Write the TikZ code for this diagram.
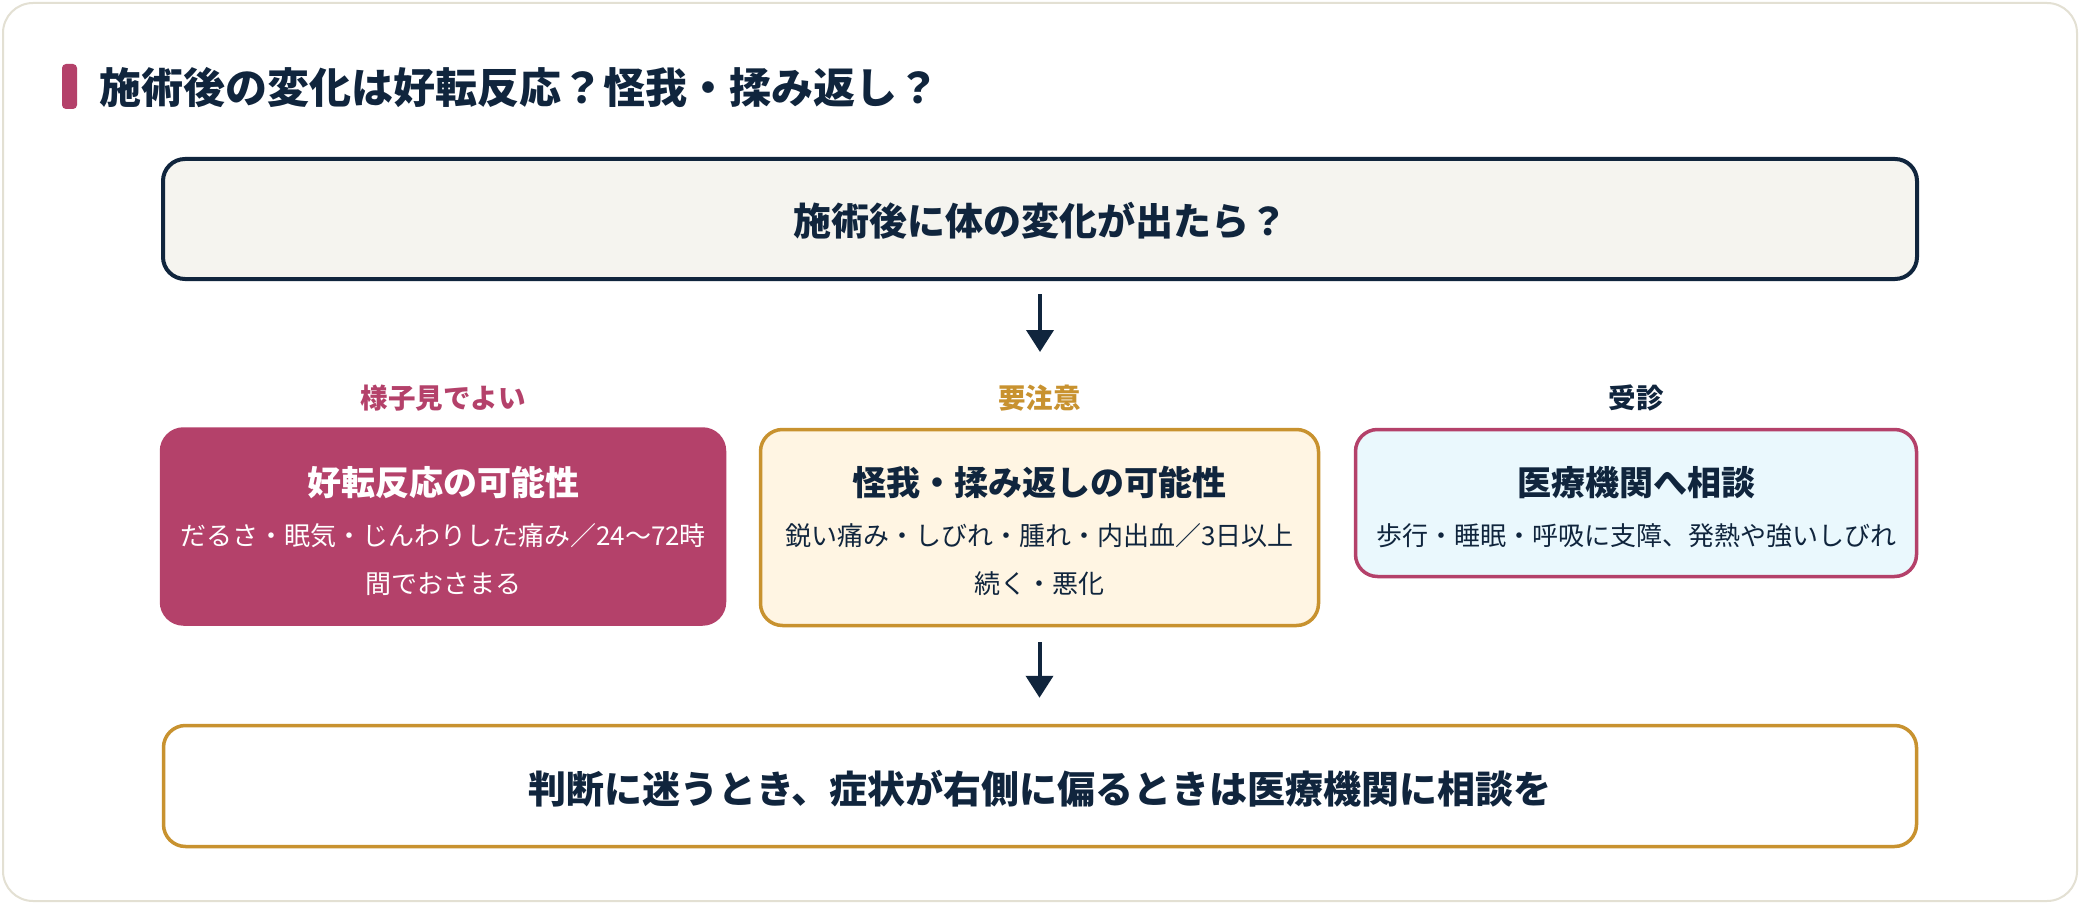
\documentclass[tikz,border=0pt]{standalone}
\usepackage{fontspec}
\setmainfont{Noto Sans CJK JP}
\usetikzlibrary{arrows.meta}
\definecolor{navy}{HTML}{10253D}
\definecolor{rose}{HTML}{B4416A}
\definecolor{gold}{HTML}{C8922F}
\definecolor{topfill}{HTML}{F5F4EF}
\definecolor{creamfill}{HTML}{FFF5E3}
\definecolor{cyanfill}{HTML}{EAF8FD}
\definecolor{cardline}{HTML}{E3E0D3}
\newcommand\fsz[1]{\fontsize{#1}{#1}\selectfont}
\tikzset{
  panel/.style={rectangle, rounded corners=22pt, inner sep=0pt, line width=3.5pt},
  txt/.style={inner sep=0pt, anchor=base},
  ttl/.style={txt, font=\fsz{42}\bfseries, text=navy},
  big/.style={txt, font=\fsz{38}\bfseries, text=navy},
  lbl/.style={txt, font=\fsz{27.5}\bfseries},
  btitle/.style={txt, font=\fsz{34}\bfseries},
  body/.style={txt, font=\fsz{26}},
  arr/.style={draw=navy, line width=4pt, -{Triangle[width=27pt,length=22pt]}}
}
\begin{document}
\begin{tikzpicture}[x=1pt,y=-1pt]
\useasboundingbox (0,0) rectangle (2080,904);
\fill[white] (0,0) rectangle (2080,904);
% card
\draw[draw=cardline, line width=2pt, fill=white, rounded corners=30pt] (3,3) rectangle (2077,901);
% title
\fill[rose, rounded corners=4pt] (62,64) rectangle (77,109);
\node[ttl, anchor=base west] (title) at (99,104) {施術後の変化は好転反応？怪我・揉み返し？};
% top box
\node[panel, draw=navy, line width=4pt, fill=topfill, minimum width=1754pt, minimum height=120pt] (top) at (1040,219) {};
\node[big] (toptxt) at (1040,236) {施術後に体の変化が出たら？};
% arrow 1
\coordinate (a1e) at (1040,352);
\draw[arr, shorten <=13pt] (top.south) -- (a1e);
% labels
\node[lbl, text=rose] (l1) at (443,408) {様子見でよい};
\node[lbl, text=gold] (l2) at (1039.5,408) {要注意};
\node[lbl, text=navy] (l3) at (1636,408) {受診};
% box 1
\node[panel, draw=rose, fill=rose, minimum width=563pt, minimum height=195pt] (b1) at (443,526.5) {};
\node[btitle, text=white] (b1t) at (443,495) {好転反応の可能性};
\node[body, text=white] (b1a) at (443,545) {だるさ・眠気・じんわりした痛み／24〜72時};
\node[body, text=white] (b1b) at (443,593) {間でおさまる};
% box 2
\node[panel, draw=gold, fill=creamfill, minimum width=558pt, minimum height=196pt] (b2) at (1039.5,527.5) {};
\node[btitle, text=navy] (b2t) at (1039.5,495) {怪我・揉み返しの可能性};
\node[body, text=navy] (b2a) at (1039.5,545) {鋭い痛み・しびれ・腫れ・内出血／3日以上};
\node[body, text=navy] (b2b) at (1039.5,593) {続く・悪化};
% box 3
\node[panel, draw=rose, fill=cyanfill, minimum width=561pt, minimum height=147pt] (b3) at (1636,503) {};
\node[btitle, text=navy] (b3t) at (1636,495) {医療機関へ相談};
\node[body, text=navy] (b3a) at (1636,545) {歩行・睡眠・呼吸に支障、発熱や強いしびれ};
% bottom box
\node[panel, draw=gold, fill=white, minimum width=1753pt, minimum height=121pt] (bot) at (1040,786) {};
\node[big] (bottxt) at (1040,803) {判断に迷うとき、症状が右側に偏るときは医療機関に相談を};
% arrow 2
\draw[arr, shorten <=15pt, shorten >=26pt] (b2.south) -- (b2.south |- bot.north);
\end{tikzpicture}
\end{document}
